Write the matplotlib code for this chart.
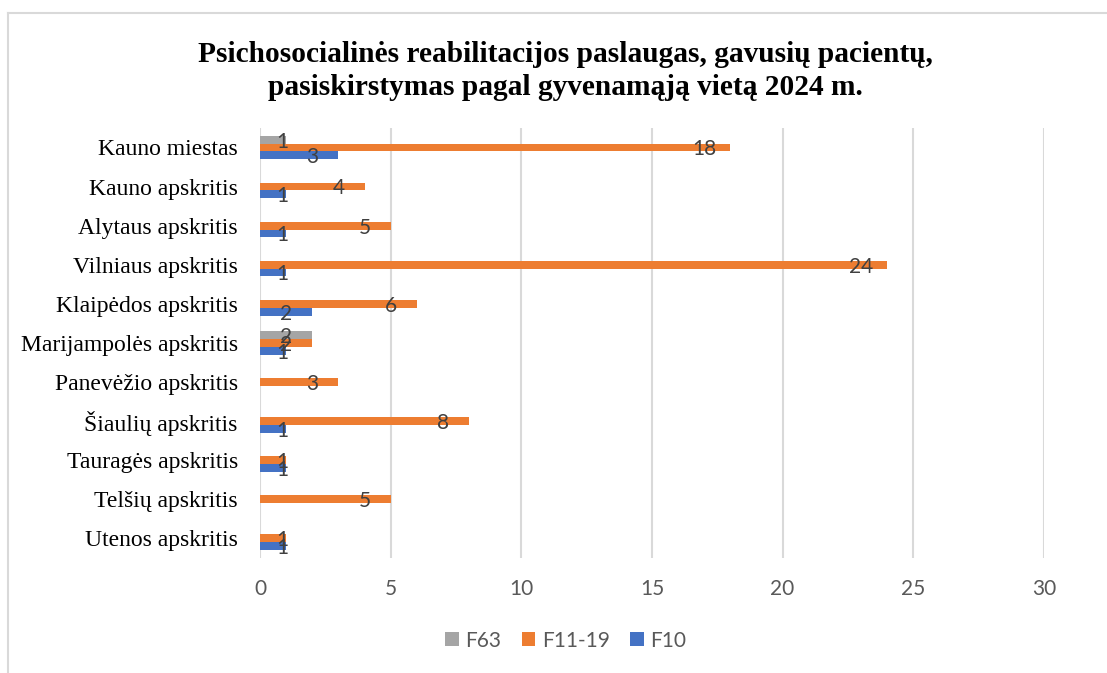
import numpy as np
import matplotlib.pyplot as plt
from matplotlib.lines import Line2D
from matplotlib.patches import Patch

# Categories (top to bottom) and values per series; 0 = no bar
categories = ['Kauno miestas', 'Kauno apskritis', 'Alytaus apskritis', 'Vilniaus apskritis',
              'Klaipėdos apskritis', 'Marijampolės apskritis', 'Panevėžio apskritis',
              'Šiaulių apskritis', 'Tauragės apskritis', 'Telšių apskritis', 'Utenos apskritis']
f63 = [1, 0, 0, 0, 0, 2, 0, 0, 0, 0, 0]
f11_19 = [18, 4, 5, 24, 6, 2, 3, 8, 1, 5, 1]
f10 = [3, 1, 1, 1, 2, 1, 0, 1, 1, 0, 1]
series_names = ['F63', 'F11-19', 'F10']
colors = ['#a5a5a5', '#ed7d31', '#4472c4']
x_ticks = [0, 5, 10, 15, 20, 25, 30]

title = 'Psichosocialinės reabilitacijos paslaugas, gavusių pacientų,\npasiskirstymas pagal gyvenamąją vietą 2024 m.'

fig = plt.figure(figsize=(11.07, 6.73), dpi=100)
ax = fig.add_axes([0.2349, 0.171, 0.943 - 0.2349, 0.810 - 0.171])

y = np.arange(len(categories))
bar_h = 0.2
offsets = [-0.2, 0.0, 0.2]
label_font = 'Lato'

for vals, off, col in zip([f63, f11_19, f10], offsets, colors):
    vals = np.array(vals, dtype=float)
    ax.barh(y + off, vals, height=bar_h, color=col, zorder=3)
    for yi, v in zip(y + off, vals):
        if v <= 0:
            continue
        # Excel-like "inside end" label, kept clear of the axis for short bars
        xpos = max(v - 1.0, 0.84)
        ax.text(xpos, yi + 0.05, f'{int(v)}', ha='center', va='center',
                fontsize=15, family=label_font, color='#404040', zorder=4)

ax.set_xlim(0, 30)
ax.set_ylim(len(categories) - 0.5, -0.5)
ax.set_xticks(x_ticks)
ax.set_xticklabels([str(t) for t in x_ticks], fontsize=15, family=label_font, color='#595959')
ax.set_yticks(y)
ax.set_yticklabels(categories, fontsize=17, family='Liberation Serif', color='black')
ax.tick_params(axis='x', length=0, pad=15)
ax.tick_params(axis='y', length=0, pad=16)
ax.grid(axis='x', color='#d9d9d9', linewidth=1.5, zorder=0)
for s in ax.spines.values():
    s.set_visible(False)

fig.text(0.511, 0.894, title, ha='center', va='center', fontsize=21.2, fontweight='bold',
         family='Liberation Serif', linespacing=1.3)

handles = [Patch(facecolor=c, edgecolor='none') for c in colors]
fig.legend(handles, series_names, loc='center', bbox_to_anchor=(0.511, 0.048), ncol=3,
           frameon=False, handlelength=0.65, handleheight=0.65, handletextpad=0.3,
           columnspacing=1.0, prop={'family': label_font, 'size': 15}, labelcolor='#595959')

# chart border (only top and left edges are visible in the crop)
fig.add_artist(Line2D([8 / 1107, 1.0], [1 - 13 / 673, 1 - 13 / 673], color='#d9d9d9', linewidth=1.5))
fig.add_artist(Line2D([8 / 1107, 8 / 1107], [0.0, 1 - 13 / 673], color='#d9d9d9', linewidth=1.5))

fig.savefig('out.png', dpi=100)
